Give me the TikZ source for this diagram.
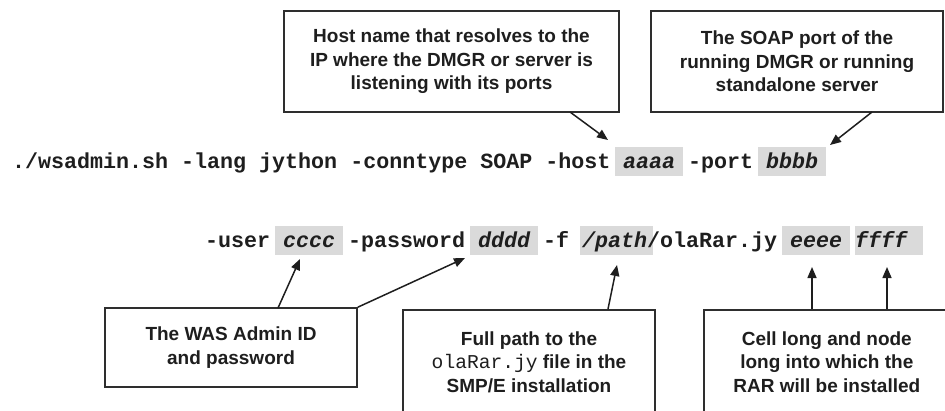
\documentclass[tikz,border=0pt]{standalone}
\usepackage{fontspec}
\setmainfont{Liberation Sans}
\newfontfamily\codefont{Liberation Mono}
\usetikzlibrary{arrows.meta}

\definecolor{ink}{HTML}{1E1E1E}
\definecolor{hlgray}{HTML}{DADADA}
\definecolor{edge}{HTML}{2E2E2E}

\tikzset{
  note/.style={draw=edge, line width=1.6pt, fill=white, align=center, text=ink,
    font=\bfseries\fontsize{19}{23.5}\selectfont, inner sep=0pt},
  hl/.style={fill=hlgray, inner sep=0pt, anchor=north west},
  cmd/.style={anchor=base west, inner sep=0pt, text=ink,
    font=\codefont\bfseries\fontsize{21.67}{26}\selectfont},
  arg/.style={anchor=base west, inner sep=0pt, text=ink,
    font=\codefont\bfseries\itshape\fontsize{21.67}{26}\selectfont},
  pointer/.style={draw=ink, line width=1.5pt, -{Triangle[length=11pt,width=9pt]}},
}

\begin{document}
\begin{tikzpicture}[x=1pt,y=-1pt]
\useasboundingbox (0,0) rectangle (945,410);
\clip (0,0) rectangle (945,410);

% grey backgrounds of the placeholder arguments
\node[hl, minimum width=68pt, minimum height=29pt] (hA) at (615,147) {};
\node[hl, minimum width=68pt, minimum height=29pt] (hB) at (758,147) {};
\node[hl, minimum width=68pt, minimum height=29pt] (hC) at (275,226) {};
\node[hl, minimum width=68pt, minimum height=29pt] (hD) at (470,226) {};
\node[hl, minimum width=73pt, minimum height=29pt] (hP) at (580,226) {};
\node[hl, minimum width=68pt, minimum height=29pt] (hE) at (782,226) {};
\node[hl, minimum width=68pt, minimum height=29pt] (hF) at (855,226) {};

% first line of the command
\node[cmd] (c1) at (12,168) {./wsadmin.sh -lang jython -conntype SOAP -host};
\node[arg] (aaaa) at (623,168) {aaaa};
\node[cmd] (c2) at (688,168) {-port};
\node[arg] (bbbb) at (766,168) {bbbb};

% second line of the command
\node[cmd] (c3) at (205,247) {-user};
\node[arg] (cccc) at (283,247) {cccc};
\node[cmd] (c4) at (348,247) {-password};
\node[arg] (dddd) at (478,247) {dddd};
\node[cmd] (c5) at (543,247) {-f};
\node[arg] (path) at (582,247) {/path};
\node[cmd] (c6) at (647,247) {/olaRar.jy};
\node[arg] (eeee) at (790,247) {eeee};
\node[arg] (ffff) at (855,247) {ffff};

% callout boxes
\node[note, minimum width=335pt, minimum height=101pt] (hostnote) at (451.5,61.5)
  {Host name that resolves to the\\IP where the DMGR or server is\\listening with its ports};
\node[note, minimum width=292pt, minimum height=101pt] (portnote) at (797,61.5)
  {The SOAP port of the\\running DMGR or running\\standalone server};
\node[note, minimum width=252pt, minimum height=79pt] (usernote) at (231,347.5)
  {The WAS Admin ID\\and password};
\node[note, minimum width=252pt, minimum height=104pt, anchor=north] (pathnote) at (529,309)
  {Full path to the\\{\mdseries\codefont\fontsize{19.6}{23.5}\selectfont olaRar.jy} file in the\\SMP/E installation};
\node[note, minimum width=246pt, minimum height=104pt, anchor=north west] (cellnote) at (703,309)
  {Cell long and node\\long into which the\\RAR will be installed};

% arrow end points
\coordinate (tailA) at (570,112);  \coordinate (tipA) at (608,140);
\coordinate (tailB) at (872,112);  \coordinate (tipB) at (830,145);
\coordinate (tailC) at (278,308);  \coordinate (tipC) at (300,259);
\coordinate (tipD) at (465,258);
\coordinate (tailP) at (608,309);  \coordinate (tipP) at (617,265);
\coordinate (tailE) at (812,309);  \coordinate (tipE) at (812,267);
\coordinate (tailF) at (887,309);  \coordinate (tipF) at (887,267);

\draw[pointer] (tailA) -- (tipA);
\draw[pointer] (tailB) -- (tipB);
\draw[pointer] (tailC) -- (tipC);
\draw[pointer] (usernote.north east) -- (tipD);
\draw[pointer] (tailP) -- (tipP);
\draw[pointer] (tailE) -- (tipE);
\draw[pointer] (tailF) -- (tipF);
\end{tikzpicture}
\end{document}
